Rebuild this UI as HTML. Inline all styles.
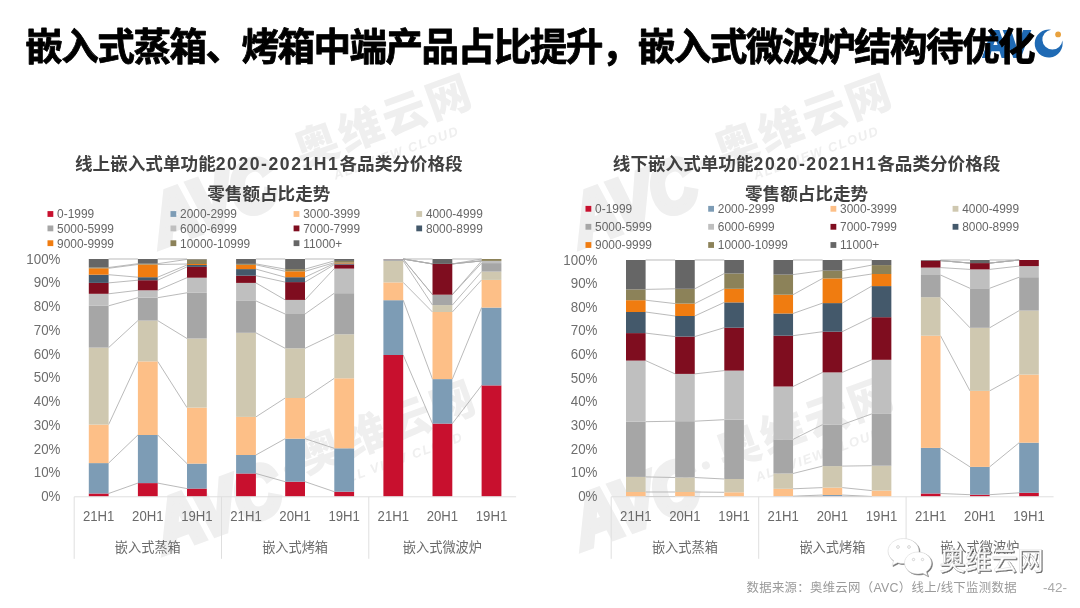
<!DOCTYPE html>
<html lang="zh-CN">
<head>
<meta charset="utf-8">
<title>嵌入式蒸箱、烤箱中端产品占比提升，嵌入式微波炉结构待优化</title>
<style>
html,body{margin:0;padding:0;background:#fff;}
body{width:1080px;height:608px;overflow:hidden;position:relative;}
svg{position:absolute;left:0;top:0;display:block;}
text{font-family:"Liberation Sans","Noto Sans CJK SC",sans-serif;}
.title{font-size:37.6px;font-weight:bold;fill:#000;letter-spacing:-1.55px;stroke:#000;stroke-width:0.8px;stroke-linejoin:round;}
.ct{font-size:17.6px;font-weight:bold;fill:#404040;}
.lt{letter-spacing:1.55px;}
.yl{font-size:14.6px;fill:#6e6e6e;}
.xl{font-size:13.8px;fill:#6a6a6a;}
.gl{font-size:13.2px;fill:#6a6a6a;}
.lg{font-size:11.9px;fill:#666;}
.sl{stroke:#adadad;stroke-width:0.85;}
.ax{stroke:#dfdfdf;stroke-width:1;}
.ft{font-size:12.4px;fill:#9a9a9a;letter-spacing:0.3px;}
.pg{font-size:13.5px;fill:#aaa;}
</style>
</head>
<body>
<svg width="1080" height="608" viewBox="0 0 1080 608">
<rect width="1080" height="608" fill="#fff"/>
<!-- watermarks -->
<g transform="translate(160,250) rotate(-20)" fill="#efefef">
<text font-family="'Liberation Sans',sans-serif" font-weight="bold" font-style="italic" font-size="72" textLength="128" lengthAdjust="spacingAndGlyphs" stroke="#efefef" stroke-width="7" stroke-linejoin="miter" x="3" y="-3">AVC</text>
<circle cx="146" cy="-39" r="4"/>
<text x="161" y="-29" font-family="'Liberation Sans','Noto Sans CJK SC',sans-serif" font-weight="900" font-size="44" letter-spacing="2.7">奥维云网</text>
<text x="189" y="-6" font-family="'Liberation Sans',sans-serif" font-weight="bold" font-style="italic" font-size="13" letter-spacing="1.5">ALL VIEW CLOUD</text>
</g>
<g transform="translate(580,250) rotate(-20)" fill="#efefef">
<text font-family="'Liberation Sans',sans-serif" font-weight="bold" font-style="italic" font-size="72" textLength="128" lengthAdjust="spacingAndGlyphs" stroke="#efefef" stroke-width="7" stroke-linejoin="miter" x="3" y="-3">AVC</text>
<circle cx="146" cy="-39" r="4"/>
<text x="161" y="-29" font-family="'Liberation Sans','Noto Sans CJK SC',sans-serif" font-weight="900" font-size="44" letter-spacing="2.7">奥维云网</text>
<text x="189" y="-6" font-family="'Liberation Sans',sans-serif" font-weight="bold" font-style="italic" font-size="13" letter-spacing="1.5">ALL VIEW CLOUD</text>
</g>
<g transform="translate(164,556) rotate(-20)" fill="#efefef">
<text font-family="'Liberation Sans',sans-serif" font-weight="bold" font-style="italic" font-size="72" textLength="128" lengthAdjust="spacingAndGlyphs" stroke="#efefef" stroke-width="7" stroke-linejoin="miter" x="3" y="-3">AVC</text>
<circle cx="146" cy="-39" r="4"/>
<text x="161" y="-29" font-family="'Liberation Sans','Noto Sans CJK SC',sans-serif" font-weight="900" font-size="44" letter-spacing="2.7">奥维云网</text>
<text x="189" y="-6" font-family="'Liberation Sans',sans-serif" font-weight="bold" font-style="italic" font-size="13" letter-spacing="1.5">ALL VIEW CLOUD</text>
</g>
<g transform="translate(582,552) rotate(-20)" fill="#efefef">
<text font-family="'Liberation Sans',sans-serif" font-weight="bold" font-style="italic" font-size="72" textLength="128" lengthAdjust="spacingAndGlyphs" stroke="#efefef" stroke-width="7" stroke-linejoin="miter" x="3" y="-3">AVC</text>
<circle cx="146" cy="-39" r="4"/>
<text x="161" y="-29" font-family="'Liberation Sans','Noto Sans CJK SC',sans-serif" font-weight="900" font-size="44" letter-spacing="2.7">奥维云网</text>
<text x="189" y="-6" font-family="'Liberation Sans',sans-serif" font-weight="bold" font-style="italic" font-size="13" letter-spacing="1.5">ALL VIEW CLOUD</text>
</g>
<!-- logo -->
<g id="logo" fill="#1f6ab4" stroke="#1f6ab4" stroke-width="0">
<text x="982.5" y="57" font-family="'Liberation Sans',sans-serif" font-weight="bold" font-size="37" textLength="26" lengthAdjust="spacingAndGlyphs" stroke-width="2.2">A</text>
<text x="1004" y="57" font-family="'Liberation Sans',sans-serif" font-weight="bold" font-size="37" textLength="26" lengthAdjust="spacingAndGlyphs" stroke-width="2.2">V</text>
<path d="M1051.03 29.69A14 14 0 1 0 1062.36 40.45A10 10 0 1 1 1051.03 29.69Z"/>
<circle cx="1058.1" cy="34.4" r="2.9" fill="#e9a23e"/>
</g>
<text class="title" x="25.3" y="59.6">嵌入式蒸箱、烤箱中端产品占比提升，嵌入式微波炉结构待优化</text>
<!-- left chart -->
<text class="yl" transform="translate(60.5,501.0) scale(0.915,1)" text-anchor="end">0%</text>
<text class="yl" transform="translate(60.5,477.2) scale(0.915,1)" text-anchor="end">10%</text>
<text class="yl" transform="translate(60.5,453.5) scale(0.915,1)" text-anchor="end">20%</text>
<text class="yl" transform="translate(60.5,429.8) scale(0.915,1)" text-anchor="end">30%</text>
<text class="yl" transform="translate(60.5,406.0) scale(0.915,1)" text-anchor="end">40%</text>
<text class="yl" transform="translate(60.5,382.2) scale(0.915,1)" text-anchor="end">50%</text>
<text class="yl" transform="translate(60.5,358.5) scale(0.915,1)" text-anchor="end">60%</text>
<text class="yl" transform="translate(60.5,334.8) scale(0.915,1)" text-anchor="end">70%</text>
<text class="yl" transform="translate(60.5,311.0) scale(0.915,1)" text-anchor="end">80%</text>
<text class="yl" transform="translate(60.5,287.2) scale(0.915,1)" text-anchor="end">90%</text>
<text class="yl" transform="translate(60.5,263.5) scale(0.915,1)" text-anchor="end">100%</text>
<line class="sl" x1="108.6" y1="493.5" x2="137.9" y2="483.1"/>
<line class="sl" x1="108.6" y1="463.1" x2="137.9" y2="435.0"/>
<line class="sl" x1="108.6" y1="424.6" x2="137.9" y2="361.4"/>
<line class="sl" x1="108.6" y1="347.6" x2="137.9" y2="320.6"/>
<line class="sl" x1="108.6" y1="305.8" x2="137.9" y2="297.7"/>
<line class="sl" x1="108.6" y1="293.8" x2="137.9" y2="290.3"/>
<line class="sl" x1="108.6" y1="282.9" x2="137.9" y2="280.2"/>
<line class="sl" x1="108.6" y1="274.7" x2="137.9" y2="277.2"/>
<line class="sl" x1="108.6" y1="268.3" x2="137.9" y2="264.5"/>
<line class="sl" x1="108.6" y1="267.5" x2="137.9" y2="263.7"/>
<line class="sl" x1="108.6" y1="259.0" x2="137.9" y2="259.0"/>
<line class="sl" x1="157.7" y1="483.1" x2="187.0" y2="488.6"/>
<line class="sl" x1="157.7" y1="435.0" x2="187.0" y2="463.6"/>
<line class="sl" x1="157.7" y1="361.4" x2="187.0" y2="407.6"/>
<line class="sl" x1="157.7" y1="320.6" x2="187.0" y2="338.5"/>
<line class="sl" x1="157.7" y1="297.7" x2="187.0" y2="292.8"/>
<line class="sl" x1="157.7" y1="290.3" x2="187.0" y2="277.7"/>
<line class="sl" x1="157.7" y1="280.2" x2="187.0" y2="266.9"/>
<line class="sl" x1="157.7" y1="277.2" x2="187.0" y2="265.0"/>
<line class="sl" x1="157.7" y1="264.5" x2="187.0" y2="264.0"/>
<line class="sl" x1="157.7" y1="263.7" x2="187.0" y2="259.4"/>
<line class="sl" x1="157.7" y1="259.0" x2="187.0" y2="259.0"/>
<line class="sl" x1="255.9" y1="473.5" x2="285.2" y2="481.7"/>
<line class="sl" x1="255.9" y1="455.0" x2="285.2" y2="438.7"/>
<line class="sl" x1="255.9" y1="416.9" x2="285.2" y2="398.0"/>
<line class="sl" x1="255.9" y1="332.8" x2="285.2" y2="348.3"/>
<line class="sl" x1="255.9" y1="300.9" x2="285.2" y2="314.0"/>
<line class="sl" x1="255.9" y1="282.9" x2="285.2" y2="299.9"/>
<line class="sl" x1="255.9" y1="275.7" x2="285.2" y2="282.1"/>
<line class="sl" x1="255.9" y1="269.1" x2="285.2" y2="277.2"/>
<line class="sl" x1="255.9" y1="264.8" x2="285.2" y2="271.3"/>
<line class="sl" x1="255.9" y1="263.9" x2="285.2" y2="269.1"/>
<line class="sl" x1="255.9" y1="259.0" x2="285.2" y2="259.0"/>
<line class="sl" x1="305.0" y1="481.7" x2="334.3" y2="491.7"/>
<line class="sl" x1="305.0" y1="438.7" x2="334.3" y2="448.3"/>
<line class="sl" x1="305.0" y1="398.0" x2="334.3" y2="378.3"/>
<line class="sl" x1="305.0" y1="348.3" x2="334.3" y2="334.3"/>
<line class="sl" x1="305.0" y1="314.0" x2="334.3" y2="293.2"/>
<line class="sl" x1="305.0" y1="299.9" x2="334.3" y2="268.6"/>
<line class="sl" x1="305.0" y1="282.1" x2="334.3" y2="264.6"/>
<line class="sl" x1="305.0" y1="277.2" x2="334.3" y2="263.5"/>
<line class="sl" x1="305.0" y1="271.3" x2="334.3" y2="262.7"/>
<line class="sl" x1="305.0" y1="269.1" x2="334.3" y2="260.9"/>
<line class="sl" x1="305.0" y1="259.0" x2="334.3" y2="259.0"/>
<line class="sl" x1="403.2" y1="355.0" x2="432.5" y2="423.6"/>
<line class="sl" x1="403.2" y1="300.2" x2="432.5" y2="379.1"/>
<line class="sl" x1="403.2" y1="282.4" x2="432.5" y2="312.0"/>
<line class="sl" x1="403.2" y1="260.9" x2="432.5" y2="305.1"/>
<line class="sl" x1="403.2" y1="259.3" x2="432.5" y2="294.7"/>
<line class="sl" x1="403.2" y1="259.2" x2="432.5" y2="294.7"/>
<line class="sl" x1="403.2" y1="259.1" x2="432.5" y2="263.9"/>
<line class="sl" x1="403.2" y1="259.0" x2="432.5" y2="263.9"/>
<line class="sl" x1="403.2" y1="259.0" x2="432.5" y2="263.9"/>
<line class="sl" x1="403.2" y1="259.0" x2="432.5" y2="263.9"/>
<line class="sl" x1="403.2" y1="259.0" x2="432.5" y2="259.0"/>
<line class="sl" x1="452.3" y1="423.6" x2="481.6" y2="385.4"/>
<line class="sl" x1="452.3" y1="379.1" x2="481.6" y2="307.6"/>
<line class="sl" x1="452.3" y1="312.0" x2="481.6" y2="279.9"/>
<line class="sl" x1="452.3" y1="305.1" x2="481.6" y2="271.6"/>
<line class="sl" x1="452.3" y1="294.7" x2="481.6" y2="263.1"/>
<line class="sl" x1="452.3" y1="294.7" x2="481.6" y2="260.9"/>
<line class="sl" x1="452.3" y1="263.9" x2="481.6" y2="260.9"/>
<line class="sl" x1="452.3" y1="263.9" x2="481.6" y2="260.9"/>
<line class="sl" x1="452.3" y1="263.9" x2="481.6" y2="260.9"/>
<line class="sl" x1="452.3" y1="263.9" x2="481.6" y2="259.0"/>
<line class="sl" x1="452.3" y1="259.0" x2="481.6" y2="259.0"/>
<rect x="88.80" y="493.50" width="19.80" height="3.00" fill="#c8102e"/>
<rect x="88.80" y="463.10" width="19.80" height="30.40" fill="#7d9cb5"/>
<rect x="88.80" y="424.60" width="19.80" height="38.50" fill="#fdbf87"/>
<rect x="88.80" y="347.60" width="19.80" height="77.00" fill="#cfc8b0"/>
<rect x="88.80" y="305.80" width="19.80" height="41.80" fill="#a6a6a6"/>
<rect x="88.80" y="293.80" width="19.80" height="12.00" fill="#bfbfbf"/>
<rect x="88.80" y="282.90" width="19.80" height="10.90" fill="#7f0d1f"/>
<rect x="88.80" y="274.70" width="19.80" height="8.20" fill="#44596b"/>
<rect x="88.80" y="268.30" width="19.80" height="6.40" fill="#f07c10"/>
<rect x="88.80" y="267.50" width="19.80" height="0.80" fill="#8c8259"/>
<rect x="88.80" y="259.00" width="19.80" height="8.50" fill="#666666"/>
<rect x="137.90" y="483.10" width="19.80" height="13.40" fill="#c8102e"/>
<rect x="137.90" y="435.00" width="19.80" height="48.10" fill="#7d9cb5"/>
<rect x="137.90" y="361.40" width="19.80" height="73.60" fill="#fdbf87"/>
<rect x="137.90" y="320.60" width="19.80" height="40.80" fill="#cfc8b0"/>
<rect x="137.90" y="297.70" width="19.80" height="22.90" fill="#a6a6a6"/>
<rect x="137.90" y="290.30" width="19.80" height="7.40" fill="#bfbfbf"/>
<rect x="137.90" y="280.20" width="19.80" height="10.10" fill="#7f0d1f"/>
<rect x="137.90" y="277.20" width="19.80" height="3.00" fill="#44596b"/>
<rect x="137.90" y="264.50" width="19.80" height="12.70" fill="#f07c10"/>
<rect x="137.90" y="263.70" width="19.80" height="0.80" fill="#8c8259"/>
<rect x="137.90" y="259.00" width="19.80" height="4.70" fill="#666666"/>
<rect x="187.00" y="488.60" width="19.80" height="7.90" fill="#c8102e"/>
<rect x="187.00" y="463.60" width="19.80" height="25.00" fill="#7d9cb5"/>
<rect x="187.00" y="407.60" width="19.80" height="56.00" fill="#fdbf87"/>
<rect x="187.00" y="338.50" width="19.80" height="69.10" fill="#cfc8b0"/>
<rect x="187.00" y="292.80" width="19.80" height="45.70" fill="#a6a6a6"/>
<rect x="187.00" y="277.70" width="19.80" height="15.10" fill="#bfbfbf"/>
<rect x="187.00" y="266.90" width="19.80" height="10.80" fill="#7f0d1f"/>
<rect x="187.00" y="265.00" width="19.80" height="1.90" fill="#44596b"/>
<rect x="187.00" y="264.00" width="19.80" height="1.00" fill="#f07c10"/>
<rect x="187.00" y="259.40" width="19.80" height="4.60" fill="#8c8259"/>
<rect x="187.00" y="259.00" width="19.80" height="0.40" fill="#666666"/>
<rect x="236.10" y="473.50" width="19.80" height="23.00" fill="#c8102e"/>
<rect x="236.10" y="455.00" width="19.80" height="18.50" fill="#7d9cb5"/>
<rect x="236.10" y="416.90" width="19.80" height="38.10" fill="#fdbf87"/>
<rect x="236.10" y="332.80" width="19.80" height="84.10" fill="#cfc8b0"/>
<rect x="236.10" y="300.90" width="19.80" height="31.90" fill="#a6a6a6"/>
<rect x="236.10" y="282.90" width="19.80" height="18.00" fill="#bfbfbf"/>
<rect x="236.10" y="275.70" width="19.80" height="7.20" fill="#7f0d1f"/>
<rect x="236.10" y="269.10" width="19.80" height="6.60" fill="#44596b"/>
<rect x="236.10" y="264.80" width="19.80" height="4.30" fill="#f07c10"/>
<rect x="236.10" y="263.90" width="19.80" height="0.90" fill="#8c8259"/>
<rect x="236.10" y="259.00" width="19.80" height="4.90" fill="#666666"/>
<rect x="285.20" y="481.70" width="19.80" height="14.80" fill="#c8102e"/>
<rect x="285.20" y="438.70" width="19.80" height="43.00" fill="#7d9cb5"/>
<rect x="285.20" y="398.00" width="19.80" height="40.70" fill="#fdbf87"/>
<rect x="285.20" y="348.30" width="19.80" height="49.70" fill="#cfc8b0"/>
<rect x="285.20" y="314.00" width="19.80" height="34.30" fill="#a6a6a6"/>
<rect x="285.20" y="299.90" width="19.80" height="14.10" fill="#bfbfbf"/>
<rect x="285.20" y="282.10" width="19.80" height="17.80" fill="#7f0d1f"/>
<rect x="285.20" y="277.20" width="19.80" height="4.90" fill="#44596b"/>
<rect x="285.20" y="271.30" width="19.80" height="5.90" fill="#f07c10"/>
<rect x="285.20" y="269.10" width="19.80" height="2.20" fill="#8c8259"/>
<rect x="285.20" y="259.00" width="19.80" height="10.10" fill="#666666"/>
<rect x="334.30" y="491.70" width="19.80" height="4.80" fill="#c8102e"/>
<rect x="334.30" y="448.30" width="19.80" height="43.40" fill="#7d9cb5"/>
<rect x="334.30" y="378.30" width="19.80" height="70.00" fill="#fdbf87"/>
<rect x="334.30" y="334.30" width="19.80" height="44.00" fill="#cfc8b0"/>
<rect x="334.30" y="293.20" width="19.80" height="41.10" fill="#a6a6a6"/>
<rect x="334.30" y="268.60" width="19.80" height="24.60" fill="#bfbfbf"/>
<rect x="334.30" y="264.60" width="19.80" height="4.00" fill="#7f0d1f"/>
<rect x="334.30" y="263.50" width="19.80" height="1.10" fill="#44596b"/>
<rect x="334.30" y="262.70" width="19.80" height="0.80" fill="#f07c10"/>
<rect x="334.30" y="260.90" width="19.80" height="1.80" fill="#8c8259"/>
<rect x="334.30" y="259.00" width="19.80" height="1.90" fill="#666666"/>
<rect x="383.40" y="355.00" width="19.80" height="141.50" fill="#c8102e"/>
<rect x="383.40" y="300.20" width="19.80" height="54.80" fill="#7d9cb5"/>
<rect x="383.40" y="282.40" width="19.80" height="17.80" fill="#fdbf87"/>
<rect x="383.40" y="260.90" width="19.80" height="21.50" fill="#cfc8b0"/>
<rect x="383.40" y="259.30" width="19.80" height="1.60" fill="#a6a6a6"/>
<rect x="383.40" y="259.20" width="19.80" height="0.10" fill="#bfbfbf"/>
<rect x="383.40" y="259.10" width="19.80" height="0.10" fill="#7f0d1f"/>
<rect x="383.40" y="259.00" width="19.80" height="0.10" fill="#44596b"/>
<rect x="432.50" y="423.60" width="19.80" height="72.90" fill="#c8102e"/>
<rect x="432.50" y="379.10" width="19.80" height="44.50" fill="#7d9cb5"/>
<rect x="432.50" y="312.00" width="19.80" height="67.10" fill="#fdbf87"/>
<rect x="432.50" y="305.10" width="19.80" height="6.90" fill="#cfc8b0"/>
<rect x="432.50" y="294.70" width="19.80" height="10.40" fill="#a6a6a6"/>
<rect x="432.50" y="263.90" width="19.80" height="30.80" fill="#7f0d1f"/>
<rect x="432.50" y="259.00" width="19.80" height="4.90" fill="#666666"/>
<rect x="481.60" y="385.40" width="19.80" height="111.10" fill="#c8102e"/>
<rect x="481.60" y="307.60" width="19.80" height="77.80" fill="#7d9cb5"/>
<rect x="481.60" y="279.90" width="19.80" height="27.70" fill="#fdbf87"/>
<rect x="481.60" y="271.60" width="19.80" height="8.30" fill="#cfc8b0"/>
<rect x="481.60" y="263.10" width="19.80" height="8.50" fill="#a6a6a6"/>
<rect x="481.60" y="260.90" width="19.80" height="2.20" fill="#bfbfbf"/>
<rect x="481.60" y="259.00" width="19.80" height="1.90" fill="#8c8259"/>
<line class="ax" x1="74.2" y1="496.8" x2="516.1" y2="496.8"/>
<line class="ax" x1="74.2" y1="496.8" x2="74.2" y2="558.8"/>
<line class="ax" x1="221.5" y1="496.8" x2="221.5" y2="558.8"/>
<line class="ax" x1="368.8" y1="496.8" x2="368.8" y2="558.8"/>
<text class="xl" transform="translate(98.7,521.3) scale(0.955,1)" text-anchor="middle">21H1</text>
<text class="xl" transform="translate(147.8,521.3) scale(0.955,1)" text-anchor="middle">20H1</text>
<text class="xl" transform="translate(196.9,521.3) scale(0.955,1)" text-anchor="middle">19H1</text>
<text class="xl" transform="translate(246.0,521.3) scale(0.955,1)" text-anchor="middle">21H1</text>
<text class="xl" transform="translate(295.1,521.3) scale(0.955,1)" text-anchor="middle">20H1</text>
<text class="xl" transform="translate(344.2,521.3) scale(0.955,1)" text-anchor="middle">19H1</text>
<text class="xl" transform="translate(393.3,521.3) scale(0.955,1)" text-anchor="middle">21H1</text>
<text class="xl" transform="translate(442.4,521.3) scale(0.955,1)" text-anchor="middle">20H1</text>
<text class="xl" transform="translate(491.5,521.3) scale(0.955,1)" text-anchor="middle">19H1</text>
<text class="gl" x="147.8" y="551.8" text-anchor="middle">嵌入式蒸箱</text>
<text class="gl" x="295.1" y="551.8" text-anchor="middle">嵌入式烤箱</text>
<text class="gl" x="442.4" y="551.8" text-anchor="middle">嵌入式微波炉</text>
<text class="ct" x="268.8" y="169.5" text-anchor="middle">线上嵌入式单功能<tspan class="lt">2020-2021H1</tspan>各品类分价格段</text>
<text class="ct" x="268.8" y="200" text-anchor="middle">零售额占比走势</text>
<rect x="47.50" y="211.10" width="5.8" height="5.8" fill="#c8102e"/>
<text class="lg" x="57.10" y="218.30">0-1999</text>
<rect x="170.50" y="211.10" width="5.8" height="5.8" fill="#7d9cb5"/>
<text class="lg" x="180.10" y="218.30">2000-2999</text>
<rect x="293.60" y="211.10" width="5.8" height="5.8" fill="#fdbf87"/>
<text class="lg" x="303.20" y="218.30">3000-3999</text>
<rect x="416.30" y="211.10" width="5.8" height="5.8" fill="#cfc8b0"/>
<text class="lg" x="425.90" y="218.30">4000-4999</text>
<rect x="47.50" y="225.50" width="5.8" height="5.8" fill="#a6a6a6"/>
<text class="lg" x="57.10" y="232.70">5000-5999</text>
<rect x="170.50" y="225.50" width="5.8" height="5.8" fill="#bfbfbf"/>
<text class="lg" x="180.10" y="232.70">6000-6999</text>
<rect x="293.60" y="225.50" width="5.8" height="5.8" fill="#7f0d1f"/>
<text class="lg" x="303.20" y="232.70">7000-7999</text>
<rect x="416.30" y="225.50" width="5.8" height="5.8" fill="#44596b"/>
<text class="lg" x="425.90" y="232.70">8000-8999</text>
<rect x="47.50" y="240.30" width="5.8" height="5.8" fill="#f07c10"/>
<text class="lg" x="57.10" y="247.50">9000-9999</text>
<rect x="170.50" y="240.30" width="5.8" height="5.8" fill="#8c8259"/>
<text class="lg" x="180.10" y="247.50">10000-10999</text>
<rect x="293.60" y="240.30" width="5.8" height="5.8" fill="#666666"/>
<text class="lg" x="303.20" y="247.50">11000+</text>
<!-- right chart -->
<text class="yl" transform="translate(597.5,501.0) scale(0.915,1)" text-anchor="end">0%</text>
<text class="yl" transform="translate(597.5,477.4) scale(0.915,1)" text-anchor="end">10%</text>
<text class="yl" transform="translate(597.5,453.7) scale(0.915,1)" text-anchor="end">20%</text>
<text class="yl" transform="translate(597.5,430.1) scale(0.915,1)" text-anchor="end">30%</text>
<text class="yl" transform="translate(597.5,406.4) scale(0.915,1)" text-anchor="end">40%</text>
<text class="yl" transform="translate(597.5,382.8) scale(0.915,1)" text-anchor="end">50%</text>
<text class="yl" transform="translate(597.5,359.1) scale(0.915,1)" text-anchor="end">60%</text>
<text class="yl" transform="translate(597.5,335.4) scale(0.915,1)" text-anchor="end">70%</text>
<text class="yl" transform="translate(597.5,311.8) scale(0.915,1)" text-anchor="end">80%</text>
<text class="yl" transform="translate(597.5,288.1) scale(0.915,1)" text-anchor="end">90%</text>
<text class="yl" transform="translate(597.5,264.5) scale(0.915,1)" text-anchor="end">100%</text>
<line class="sl" x1="645.6" y1="496.5" x2="675.1" y2="496.5"/>
<line class="sl" x1="645.6" y1="496.5" x2="675.1" y2="496.5"/>
<line class="sl" x1="645.6" y1="492.0" x2="675.1" y2="492.0"/>
<line class="sl" x1="645.6" y1="476.9" x2="675.1" y2="477.5"/>
<line class="sl" x1="645.6" y1="421.7" x2="675.1" y2="421.2"/>
<line class="sl" x1="645.6" y1="360.6" x2="675.1" y2="373.9"/>
<line class="sl" x1="645.6" y1="333.1" x2="675.1" y2="336.6"/>
<line class="sl" x1="645.6" y1="312.0" x2="675.1" y2="316.0"/>
<line class="sl" x1="645.6" y1="300.2" x2="675.1" y2="303.6"/>
<line class="sl" x1="645.6" y1="289.4" x2="675.1" y2="288.8"/>
<line class="sl" x1="645.6" y1="260.0" x2="675.1" y2="260.0"/>
<line class="sl" x1="694.7" y1="496.5" x2="724.3" y2="496.5"/>
<line class="sl" x1="694.7" y1="496.5" x2="724.3" y2="496.5"/>
<line class="sl" x1="694.7" y1="492.0" x2="724.3" y2="492.3"/>
<line class="sl" x1="694.7" y1="477.5" x2="724.3" y2="479.0"/>
<line class="sl" x1="694.7" y1="421.2" x2="724.3" y2="419.7"/>
<line class="sl" x1="694.7" y1="373.9" x2="724.3" y2="370.6"/>
<line class="sl" x1="694.7" y1="336.6" x2="724.3" y2="327.7"/>
<line class="sl" x1="694.7" y1="316.0" x2="724.3" y2="302.4"/>
<line class="sl" x1="694.7" y1="303.6" x2="724.3" y2="288.8"/>
<line class="sl" x1="694.7" y1="288.8" x2="724.3" y2="273.5"/>
<line class="sl" x1="694.7" y1="260.0" x2="724.3" y2="260.0"/>
<line class="sl" x1="793.0" y1="496.5" x2="822.6" y2="496.3"/>
<line class="sl" x1="793.0" y1="496.2" x2="822.6" y2="495.0"/>
<line class="sl" x1="793.0" y1="488.8" x2="822.6" y2="487.6"/>
<line class="sl" x1="793.0" y1="473.5" x2="822.6" y2="466.1"/>
<line class="sl" x1="793.0" y1="439.4" x2="822.6" y2="424.6"/>
<line class="sl" x1="793.0" y1="386.5" x2="822.6" y2="372.4"/>
<line class="sl" x1="793.0" y1="335.7" x2="822.6" y2="331.7"/>
<line class="sl" x1="793.0" y1="313.5" x2="822.6" y2="303.1"/>
<line class="sl" x1="793.0" y1="294.7" x2="822.6" y2="278.4"/>
<line class="sl" x1="793.0" y1="274.6" x2="822.6" y2="270.6"/>
<line class="sl" x1="793.0" y1="260.0" x2="822.6" y2="260.0"/>
<line class="sl" x1="842.2" y1="496.3" x2="871.8" y2="496.5"/>
<line class="sl" x1="842.2" y1="495.0" x2="871.8" y2="496.5"/>
<line class="sl" x1="842.2" y1="487.6" x2="871.8" y2="490.6"/>
<line class="sl" x1="842.2" y1="466.1" x2="871.8" y2="465.7"/>
<line class="sl" x1="842.2" y1="424.6" x2="871.8" y2="413.9"/>
<line class="sl" x1="842.2" y1="372.4" x2="871.8" y2="359.8"/>
<line class="sl" x1="842.2" y1="331.7" x2="871.8" y2="317.2"/>
<line class="sl" x1="842.2" y1="303.1" x2="871.8" y2="286.1"/>
<line class="sl" x1="842.2" y1="278.4" x2="871.8" y2="274.0"/>
<line class="sl" x1="842.2" y1="270.6" x2="871.8" y2="265.1"/>
<line class="sl" x1="842.2" y1="260.0" x2="871.8" y2="260.0"/>
<line class="sl" x1="940.5" y1="493.5" x2="970.0" y2="494.7"/>
<line class="sl" x1="940.5" y1="447.9" x2="970.0" y2="466.9"/>
<line class="sl" x1="940.5" y1="335.7" x2="970.0" y2="390.9"/>
<line class="sl" x1="940.5" y1="297.2" x2="970.0" y2="327.8"/>
<line class="sl" x1="940.5" y1="275.0" x2="970.0" y2="288.3"/>
<line class="sl" x1="940.5" y1="267.6" x2="970.0" y2="269.4"/>
<line class="sl" x1="940.5" y1="260.6" x2="970.0" y2="263.1"/>
<line class="sl" x1="940.5" y1="260.6" x2="970.0" y2="263.1"/>
<line class="sl" x1="940.5" y1="260.6" x2="970.0" y2="263.1"/>
<line class="sl" x1="940.5" y1="260.6" x2="970.0" y2="263.1"/>
<line class="sl" x1="940.5" y1="260.0" x2="970.0" y2="260.0"/>
<line class="sl" x1="989.6" y1="494.7" x2="1019.2" y2="492.8"/>
<line class="sl" x1="989.6" y1="466.9" x2="1019.2" y2="442.7"/>
<line class="sl" x1="989.6" y1="390.9" x2="1019.2" y2="374.6"/>
<line class="sl" x1="989.6" y1="327.8" x2="1019.2" y2="310.6"/>
<line class="sl" x1="989.6" y1="288.3" x2="1019.2" y2="277.2"/>
<line class="sl" x1="989.6" y1="269.4" x2="1019.2" y2="266.1"/>
<line class="sl" x1="989.6" y1="263.1" x2="1019.2" y2="260.0"/>
<line class="sl" x1="989.6" y1="263.1" x2="1019.2" y2="260.0"/>
<line class="sl" x1="989.6" y1="263.1" x2="1019.2" y2="260.0"/>
<line class="sl" x1="989.6" y1="263.1" x2="1019.2" y2="260.0"/>
<line class="sl" x1="989.6" y1="260.0" x2="1019.2" y2="260.0"/>
<rect x="626.00" y="492.00" width="19.60" height="4.50" fill="#fdbf87"/>
<rect x="626.00" y="476.90" width="19.60" height="15.10" fill="#cfc8b0"/>
<rect x="626.00" y="421.70" width="19.60" height="55.20" fill="#a6a6a6"/>
<rect x="626.00" y="360.60" width="19.60" height="61.10" fill="#bfbfbf"/>
<rect x="626.00" y="333.10" width="19.60" height="27.50" fill="#7f0d1f"/>
<rect x="626.00" y="312.00" width="19.60" height="21.10" fill="#44596b"/>
<rect x="626.00" y="300.20" width="19.60" height="11.80" fill="#f07c10"/>
<rect x="626.00" y="289.40" width="19.60" height="10.80" fill="#8c8259"/>
<rect x="626.00" y="260.00" width="19.60" height="29.40" fill="#666666"/>
<rect x="675.15" y="492.00" width="19.60" height="4.50" fill="#fdbf87"/>
<rect x="675.15" y="477.50" width="19.60" height="14.50" fill="#cfc8b0"/>
<rect x="675.15" y="421.20" width="19.60" height="56.30" fill="#a6a6a6"/>
<rect x="675.15" y="373.90" width="19.60" height="47.30" fill="#bfbfbf"/>
<rect x="675.15" y="336.60" width="19.60" height="37.30" fill="#7f0d1f"/>
<rect x="675.15" y="316.00" width="19.60" height="20.60" fill="#44596b"/>
<rect x="675.15" y="303.60" width="19.60" height="12.40" fill="#f07c10"/>
<rect x="675.15" y="288.80" width="19.60" height="14.80" fill="#8c8259"/>
<rect x="675.15" y="260.00" width="19.60" height="28.80" fill="#666666"/>
<rect x="724.30" y="492.30" width="19.60" height="4.20" fill="#fdbf87"/>
<rect x="724.30" y="479.00" width="19.60" height="13.30" fill="#cfc8b0"/>
<rect x="724.30" y="419.70" width="19.60" height="59.30" fill="#a6a6a6"/>
<rect x="724.30" y="370.60" width="19.60" height="49.10" fill="#bfbfbf"/>
<rect x="724.30" y="327.70" width="19.60" height="42.90" fill="#7f0d1f"/>
<rect x="724.30" y="302.40" width="19.60" height="25.30" fill="#44596b"/>
<rect x="724.30" y="288.80" width="19.60" height="13.60" fill="#f07c10"/>
<rect x="724.30" y="273.50" width="19.60" height="15.30" fill="#8c8259"/>
<rect x="724.30" y="260.00" width="19.60" height="13.50" fill="#666666"/>
<rect x="773.45" y="496.20" width="19.60" height="0.30" fill="#7d9cb5"/>
<rect x="773.45" y="488.80" width="19.60" height="7.40" fill="#fdbf87"/>
<rect x="773.45" y="473.50" width="19.60" height="15.30" fill="#cfc8b0"/>
<rect x="773.45" y="439.40" width="19.60" height="34.10" fill="#a6a6a6"/>
<rect x="773.45" y="386.50" width="19.60" height="52.90" fill="#bfbfbf"/>
<rect x="773.45" y="335.70" width="19.60" height="50.80" fill="#7f0d1f"/>
<rect x="773.45" y="313.50" width="19.60" height="22.20" fill="#44596b"/>
<rect x="773.45" y="294.70" width="19.60" height="18.80" fill="#f07c10"/>
<rect x="773.45" y="274.60" width="19.60" height="20.10" fill="#8c8259"/>
<rect x="773.45" y="260.00" width="19.60" height="14.60" fill="#666666"/>
<rect x="822.60" y="496.30" width="19.60" height="0.20" fill="#c8102e"/>
<rect x="822.60" y="495.00" width="19.60" height="1.30" fill="#7d9cb5"/>
<rect x="822.60" y="487.60" width="19.60" height="7.40" fill="#fdbf87"/>
<rect x="822.60" y="466.10" width="19.60" height="21.50" fill="#cfc8b0"/>
<rect x="822.60" y="424.60" width="19.60" height="41.50" fill="#a6a6a6"/>
<rect x="822.60" y="372.40" width="19.60" height="52.20" fill="#bfbfbf"/>
<rect x="822.60" y="331.70" width="19.60" height="40.70" fill="#7f0d1f"/>
<rect x="822.60" y="303.10" width="19.60" height="28.60" fill="#44596b"/>
<rect x="822.60" y="278.40" width="19.60" height="24.70" fill="#f07c10"/>
<rect x="822.60" y="270.60" width="19.60" height="7.80" fill="#8c8259"/>
<rect x="822.60" y="260.00" width="19.60" height="10.60" fill="#666666"/>
<rect x="871.75" y="490.60" width="19.60" height="5.90" fill="#fdbf87"/>
<rect x="871.75" y="465.70" width="19.60" height="24.90" fill="#cfc8b0"/>
<rect x="871.75" y="413.90" width="19.60" height="51.80" fill="#a6a6a6"/>
<rect x="871.75" y="359.80" width="19.60" height="54.10" fill="#bfbfbf"/>
<rect x="871.75" y="317.20" width="19.60" height="42.60" fill="#7f0d1f"/>
<rect x="871.75" y="286.10" width="19.60" height="31.10" fill="#44596b"/>
<rect x="871.75" y="274.00" width="19.60" height="12.10" fill="#f07c10"/>
<rect x="871.75" y="265.10" width="19.60" height="8.90" fill="#8c8259"/>
<rect x="871.75" y="260.00" width="19.60" height="5.10" fill="#666666"/>
<rect x="920.90" y="493.50" width="19.60" height="3.00" fill="#c8102e"/>
<rect x="920.90" y="447.90" width="19.60" height="45.60" fill="#7d9cb5"/>
<rect x="920.90" y="335.70" width="19.60" height="112.20" fill="#fdbf87"/>
<rect x="920.90" y="297.20" width="19.60" height="38.50" fill="#cfc8b0"/>
<rect x="920.90" y="275.00" width="19.60" height="22.20" fill="#a6a6a6"/>
<rect x="920.90" y="267.60" width="19.60" height="7.40" fill="#bfbfbf"/>
<rect x="920.90" y="260.60" width="19.60" height="7.00" fill="#7f0d1f"/>
<rect x="920.90" y="260.00" width="19.60" height="0.60" fill="#666666"/>
<rect x="970.05" y="494.70" width="19.60" height="1.80" fill="#c8102e"/>
<rect x="970.05" y="466.90" width="19.60" height="27.80" fill="#7d9cb5"/>
<rect x="970.05" y="390.90" width="19.60" height="76.00" fill="#fdbf87"/>
<rect x="970.05" y="327.80" width="19.60" height="63.10" fill="#cfc8b0"/>
<rect x="970.05" y="288.30" width="19.60" height="39.50" fill="#a6a6a6"/>
<rect x="970.05" y="269.40" width="19.60" height="18.90" fill="#bfbfbf"/>
<rect x="970.05" y="263.10" width="19.60" height="6.30" fill="#7f0d1f"/>
<rect x="970.05" y="260.00" width="19.60" height="3.10" fill="#666666"/>
<rect x="1019.20" y="492.80" width="19.60" height="3.70" fill="#c8102e"/>
<rect x="1019.20" y="442.70" width="19.60" height="50.10" fill="#7d9cb5"/>
<rect x="1019.20" y="374.60" width="19.60" height="68.10" fill="#fdbf87"/>
<rect x="1019.20" y="310.60" width="19.60" height="64.00" fill="#cfc8b0"/>
<rect x="1019.20" y="277.20" width="19.60" height="33.40" fill="#a6a6a6"/>
<rect x="1019.20" y="266.10" width="19.60" height="11.10" fill="#bfbfbf"/>
<rect x="1019.20" y="260.00" width="19.60" height="6.10" fill="#7f0d1f"/>
<line class="ax" x1="611.2" y1="496.8" x2="1053.6" y2="496.8"/>
<line class="ax" x1="611.2" y1="496.8" x2="611.2" y2="558.8"/>
<line class="ax" x1="758.7" y1="496.8" x2="758.7" y2="558.8"/>
<line class="ax" x1="906.1" y1="496.8" x2="906.1" y2="558.8"/>
<text class="xl" transform="translate(635.8,521.3) scale(0.955,1)" text-anchor="middle">21H1</text>
<text class="xl" transform="translate(684.9,521.3) scale(0.955,1)" text-anchor="middle">20H1</text>
<text class="xl" transform="translate(734.1,521.3) scale(0.955,1)" text-anchor="middle">19H1</text>
<text class="xl" transform="translate(783.2,521.3) scale(0.955,1)" text-anchor="middle">21H1</text>
<text class="xl" transform="translate(832.4,521.3) scale(0.955,1)" text-anchor="middle">20H1</text>
<text class="xl" transform="translate(881.5,521.3) scale(0.955,1)" text-anchor="middle">19H1</text>
<text class="xl" transform="translate(930.7,521.3) scale(0.955,1)" text-anchor="middle">21H1</text>
<text class="xl" transform="translate(979.8,521.3) scale(0.955,1)" text-anchor="middle">20H1</text>
<text class="xl" transform="translate(1029.0,521.3) scale(0.955,1)" text-anchor="middle">19H1</text>
<text class="gl" x="684.9" y="551.8" text-anchor="middle">嵌入式蒸箱</text>
<text class="gl" x="832.4" y="551.8" text-anchor="middle">嵌入式烤箱</text>
<text class="gl" x="979.8" y="551.8" text-anchor="middle">嵌入式微波炉</text>
<text class="ct" x="806.6" y="169.5" text-anchor="middle">线下嵌入式单功能<tspan class="lt">2020-2021H1</tspan>各品类分价格段</text>
<text class="ct" x="806.6" y="200" text-anchor="middle">零售额占比走势</text>
<rect x="585.50" y="205.90" width="5.8" height="5.8" fill="#c8102e"/>
<text class="lg" x="595.10" y="213.10">0-1999</text>
<rect x="708.20" y="205.90" width="5.8" height="5.8" fill="#7d9cb5"/>
<text class="lg" x="717.80" y="213.10">2000-2999</text>
<rect x="830.50" y="205.90" width="5.8" height="5.8" fill="#fdbf87"/>
<text class="lg" x="840.10" y="213.10">3000-3999</text>
<rect x="952.60" y="205.90" width="5.8" height="5.8" fill="#cfc8b0"/>
<text class="lg" x="962.20" y="213.10">4000-4999</text>
<rect x="585.50" y="223.90" width="5.8" height="5.8" fill="#a6a6a6"/>
<text class="lg" x="595.10" y="231.10">5000-5999</text>
<rect x="708.20" y="223.90" width="5.8" height="5.8" fill="#bfbfbf"/>
<text class="lg" x="717.80" y="231.10">6000-6999</text>
<rect x="830.50" y="223.90" width="5.8" height="5.8" fill="#7f0d1f"/>
<text class="lg" x="840.10" y="231.10">7000-7999</text>
<rect x="952.60" y="223.90" width="5.8" height="5.8" fill="#44596b"/>
<text class="lg" x="962.20" y="231.10">8000-8999</text>
<rect x="585.50" y="242.10" width="5.8" height="5.8" fill="#f07c10"/>
<text class="lg" x="595.10" y="249.30">9000-9999</text>
<rect x="708.20" y="242.10" width="5.8" height="5.8" fill="#8c8259"/>
<text class="lg" x="717.80" y="249.30">10000-10999</text>
<rect x="830.50" y="242.10" width="5.8" height="5.8" fill="#666666"/>
<text class="lg" x="840.10" y="249.30">11000+</text>
<!-- footer -->
<text class="ft" x="746.5" y="591.5">数据来源：奥维云网（AVC）线上/线下监测数据</text>
<text class="pg" x="1043" y="592">-42-</text>
<!-- wechat watermark -->
<g id="wx">
<g fill="#fff" stroke="#d0d0d0" stroke-width="0.5" style="filter:drop-shadow(1px 1px 0.5px rgba(60,60,60,.75))">
<path d="M903.5 538.5c-8.6 0-15.5 5.600-15.5 12.600c0 3.900 2.200 7.400 5.600 9.700l-1.600 4.800l5.600-2.900c1.800 0.600 3.800 0.900 5.900 0.900c8.600 0 15.500-5.600 15.500-12.600s-6.900-12.500-15.500-12.500z"/>
<path d="M918 552c-7.500 0-13.500 4.900-13.500 11s6 11 13.500 11c1.700 0 3.300-0.300 4.800-0.700l4.800 2.500l-1.300-4.100c3.200-2 5.200-5.100 5.200-8.700c0-6.100-6-11-13.500-11z"/>
</g>
<g fill="#fff" stroke="#bbb" stroke-width="0.6"><circle cx="898" cy="547" r="1.400"/><circle cx="909" cy="547" r="1.400"/><circle cx="913.500" cy="559.500" r="1.200"/><circle cx="922.500" cy="559.500" r="1.200"/></g>
<text x="939.5" y="570" font-size="26" fill="#fff" stroke="#cfcfcf" stroke-width="0.4" style="filter:drop-shadow(1px 1px 0.4px rgba(50,50,50,.72))">奥维云网</text>
</g>
</svg>
</body>
</html>
